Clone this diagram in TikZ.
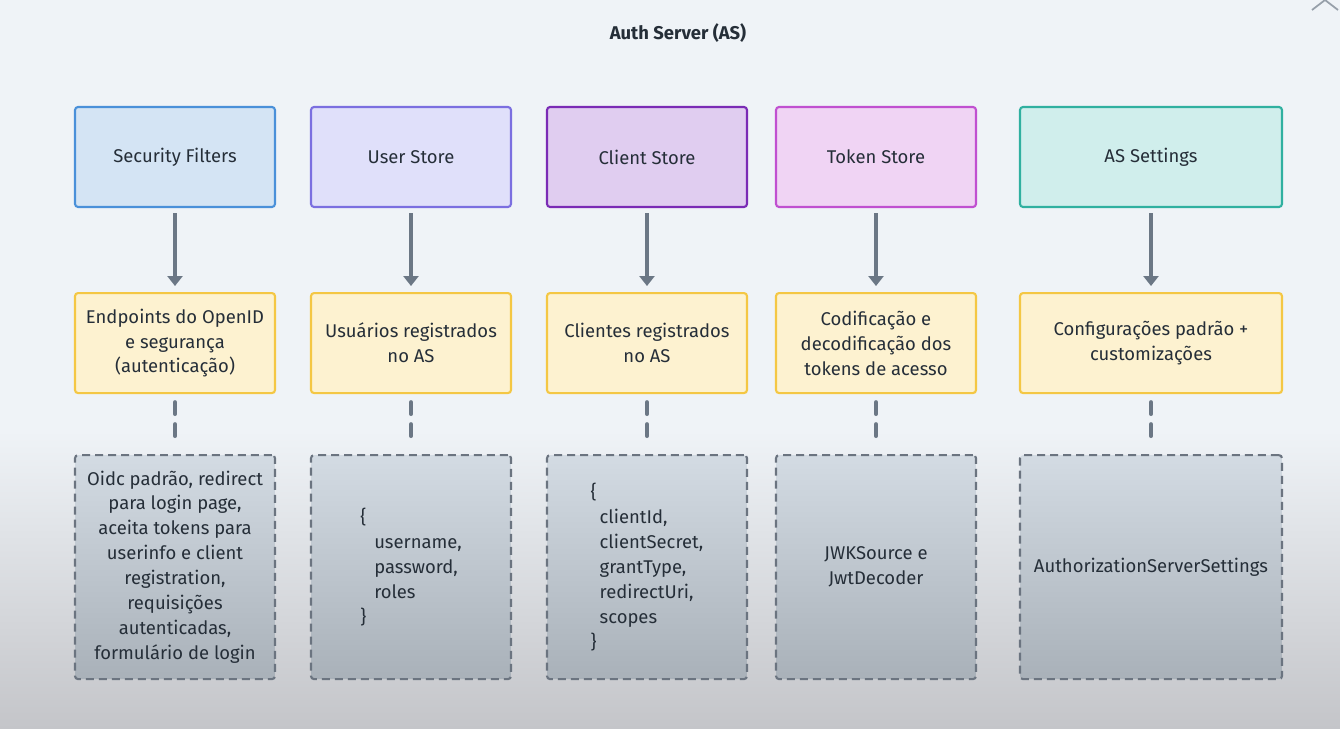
\documentclass[tikz,border=0pt]{standalone}
\usepackage{fontspec}
\setmainfont{Fira Sans}
\usetikzlibrary{arrows.meta, positioning}

\definecolor{inkdark}{HTML}{252E38}
\definecolor{bgtop}{HTML}{EFF3F7}
\definecolor{bgbottom}{HTML}{C4C5C9}
\definecolor{linkgrey}{HTML}{6B7785}
\definecolor{notefill}{HTML}{FDF2D0}
\definecolor{notedraw}{HTML}{F4C744}
\definecolor{detailtop}{HTML}{D3DBE3}
\definecolor{detailbottom}{HTML}{A9B1B9}
\definecolor{detaildraw}{HTML}{6B7480}

\tikzset{
  base/.style={rounded corners=0.06cm, line width=1.2pt, text=inkdark,
    font=\fontsize{10.5}{14.2}\selectfont, align=center,
    minimum width=4cm, inner sep=0pt},
  topbox/.style={base, minimum height=2cm},
  notebox/.style={base, minimum height=2cm, fill=notefill, draw=notedraw},
  detailbox/.style={base, minimum height=4.48cm, top color=detailtop,
    bottom color=detailbottom, draw=detaildraw, dash pattern=on 0.16cm off 0.1cm},
  flow/.style={line width=2.2pt, draw=linkgrey,
    -{Triangle[width=0.3cm,length=0.2cm]}, shorten <=0.1cm, shorten >=0.12cm},
  link/.style={line width=2.2pt, draw=linkgrey, line cap=round,
    dash pattern=on 0.24cm off 0.2cm, shorten <=0.16cm, shorten >=0.36cm}
}

\begin{document}
\begin{tikzpicture}[x=0.02cm, y=-0.02cm, node distance=1.68cm]

% Background
\fill[bgtop] (0,0) rectangle (1340,430);
\shade[top color=bgtop, bottom color=bgbottom] (0,430) rectangle (1340,729);
\useasboundingbox (0,0) rectangle (1340,729);

% Window close mark
\draw[linkgrey!70, line width=1pt] (1312,10) -- (1325,0) (1325,0) -- (1338,10);

% Title
\node[font=\fontsize{10.5}{12}\selectfont\bfseries, text=inkdark] (title) at (678,33) {Auth Server (AS)};

% Components
\node[topbox, fill={rgb,255:red,212;green,228;blue,244}, draw={rgb,255:red,74;green,144;blue,217}] (sf) at (175,157) {Security Filters};
\node[topbox, fill={rgb,255:red,224;green,224;blue,250}, draw={rgb,255:red,123;green,111;blue,224}] (us) at (411,157) {User Store};
\node[topbox, fill={rgb,255:red,224;green,205;blue,240}, draw={rgb,255:red,122;green,43;blue,181}] (cs) at (647,157) {Client Store};
\node[topbox, fill={rgb,255:red,240;green,212;blue,244}, draw={rgb,255:red,192;green,80;blue,208}] (ts) at (876,157) {Token Store};
\node[topbox, minimum width=5.24cm, fill={rgb,255:red,208;green,238;blue,236}, draw={rgb,255:red,48;green,176;blue,160}] (ass) at (1151,157) {AS Settings};

% Descriptions
\node[notebox, below=of sf] (sfn) {Endpoints do OpenID\\e segurança\\(autenticação)};
\node[notebox, below=of us] (usn) {Usuários registrados\\no AS};
\node[notebox, below=of cs] (csn) {Clientes registrados\\no AS};
\node[notebox, below=of ts] (tsn) {Codificação e\\decodificação dos\\tokens de acesso};
\node[notebox, minimum width=5.24cm, below=of ass] (assn) {Configurações padrão +\\customizações};

% Details
\node[detailbox, below=1.2cm of sfn] (sfd) {Oidc padrão, redirect\\para login page,\\aceita tokens para\\userinfo e client\\registration,\\requisições\\autenticadas,\\formulário de login};
\node[detailbox, below=1.2cm of usn, align=left] (usd) {\{\\\hspace*{0.28cm}username,\\\hspace*{0.28cm}password,\\\hspace*{0.28cm}roles\\\}};
\node[detailbox, below=1.2cm of csn, align=left] (csd) {\{\\\hspace*{0.18cm}clientId,\\\hspace*{0.18cm}clientSecret,\\\hspace*{0.18cm}grantType,\\\hspace*{0.18cm}redirectUri,\\\hspace*{0.18cm}scopes\\\}};
\node[detailbox, below=1.2cm of tsn] (tsd) {JWKSource e\\JwtDecoder};
\node[detailbox, minimum width=5.24cm, below=1.2cm of assn] (assd) {AuthorizationServerSettings};

% Connectors
\foreach \c in {sf, us, cs, ts, ass} {
  \draw[flow] (\c) -- (\c n);
  \draw[link] (\c n) -- (\c d);
}

\end{tikzpicture}
\end{document}
